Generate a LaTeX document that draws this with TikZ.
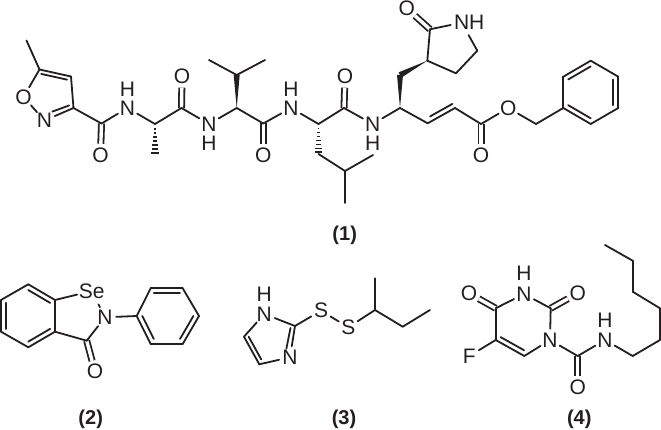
\documentclass[tikz,border=0pt]{standalone}
\usepackage{xcolor}
\usepackage{fontspec}
\setmainfont{Liberation Sans}
\usetikzlibrary{calc,positioning}
\definecolor{ink}{HTML}{231F20}
\tikzstyle{atom} = [circle, inner sep=0pt, minimum size=22pt, text=ink, font=\fontsize{21}{23}\selectfont]
\tikzstyle{tag} = [inner sep=0pt, text=ink, font=\fontsize{20}{22}\selectfont\bfseries]
\tikzstyle{bond} = [draw=ink, line width=1.8pt, line cap=round]
\tikzstyle{dbond} = [draw=ink, line width=1.8pt, double, double distance=3.4pt]
\newcommand{\innerbond}[3]{\draw[bond] ($(#1)!.18!(#3)$) -- ($(#2)!.18!(#3)$);}
\newcommand{\wedgebond}[2]{\fill[ink] (#1) -- ($(#2)!3pt!90:(#1)$) -- ($(#2)!3pt!-90:(#1)$) -- cycle;}
\newcommand{\hashbond}[2]{\foreach \t in {.16,.29,.42,.55,.68,.81,.94}
    \draw[ink, line width=1.4pt] ($(#1)!\t!(#2)!\t*4pt!90:(#2)$) -- ($(#1)!\t!(#2)!\t*4pt!-90:(#2)$);}

\begin{document}
\begin{tikzpicture}[x=1pt, y=-1pt, node distance=19pt]
    \useasboundingbox (0,0) rectangle (661,430);

    \foreach \name/\pos in {c1/{26.5,40.5}, c2/{39.5,69.5}, c3/{71,76.5}, c4/{73.5,108}, c5/{101.5,123.5},
        c6/{155,124}, c7/{155,155}, c8/{181.5,108}, c9/{236.7,108}, c10/{236.7,75}, c11/{209,60}, c12/{265,60},
        c13/{263.3,123.5}, c14/{318.5,124}, c15/{318.5,154}, c16/{345,171}, c17/{373,155}, c18/{345,203},
        c19/{344,108}, c20/{400,108}, c21/{400,75}, c22/{427.3,60.7}, c23/{430,29.3}, c24/{477.3,50.7},
        c25/{456,73.3}, c26/{427.7,123.3}, c27/{455,108}, c28/{481,124}, c29/{536,124}, c30/{563.3,108},
        c31/{563.3,76.7}, c32/{590.7,60.7}, c33/{618.3,76.7}, c34/{618.3,108}, c35/{590.7,124},
        isox/{49,94}, isoxn/{53,115.5}, vinyl/{441,85}, benzyl/{590.7,92.3}}
        \coordinate (\name) at (\pos);

    \node[atom] (o1) at (23.5,97) {O};
    \node[atom] (n1) at (44.5,120.5) {N};
    \node[atom] (o2) at (100.5,155) {O};
    \node[atom] (n2) at (127.5,108) {N};
    \node[atom, above of=n2] (h2) {H};
    \node[atom] (o3) at (182,76.5) {O};
    \node[atom] (n3) at (209,124) {N};
    \node[atom, below of=n3] (h3) {H};
    \node[atom] (o4) at (263.3,155) {O};
    \node[atom] (n4) at (291,108) {N};
    \node[atom, above of=n4] (h4) {H};
    \node[atom] (o5) at (345,76.5) {O};
    \node[atom] (n5) at (372.7,124) {N};
    \node[atom, below of=n5] (h5) {H};
    \node[atom] (o6) at (406.7,8.3) {O};
    \node[atom] (n6) at (461.7,22.7) {N};
    \node[atom, right of=n6, node distance=15pt] (h6) {H};
    \node[atom] (o7) at (481,155) {O};
    \node[atom] (o8) at (508.3,108) {O};
    \node[tag] (tag1) at (344.7,235) {(1)};

    \foreach \a/\b in {c5/o2, c8/o3, c13/o4, c19/o5, c23/o6, c28/o7}
        \draw[dbond] (\a) -- (\b);
    \foreach \a/\b in {c1/c2, c2/c3, c3/c4, c4/n1, c2/o1, o1/n1, c4/c5, c5/n2, n2/c6, c6/c8, c8/n3, n3/c9, c9/c13,
        c10/c11, c10/c12, c13/n4, n4/c14, c14/c19, c15/c16, c16/c17, c16/c18, c19/n5, n5/c20, c22/c23, c23/n6,
        c24/c25, c25/c22, c20/c26, c26/c27, c27/c28, c28/o8, o8/c29, c29/c30, c30/c31, c31/c32, c32/c33,
        c33/c34, c34/c35, c35/c30}
        \draw[bond] (\a) -- (\b);
    \draw[bond, shorten <=3pt] (n6) -- (c24);
    \innerbond{c2}{c3}{isox}
    \innerbond{c4}{isoxn}{isox}
    \innerbond{c26}{c27}{vinyl}
    \innerbond{c31}{c32}{benzyl}
    \innerbond{c33}{c34}{benzyl}
    \innerbond{c35}{c30}{benzyl}
    \wedgebond{c9}{c10}
    \wedgebond{c20}{c21}
    \wedgebond{c22}{c21}
    \hashbond{c6}{c7}
    \hashbond{c14}{c15}

    \foreach \name/\pos in {d1/{28.3,284.3}, d2/{55,300}, d3/{55,331.7}, d4/{28.3,347.3}, d5/{1,331.7}, d6/{1,300},
        d7/{86.7,340.7}, d8/{136.7,316}, d9/{150.7,288.3}, d10/{182.7,288.3}, d11/{199,316}, d12/{182.7,344},
        d13/{150.7,344}, fused/{28,316}, phenyl/{167.8,316}}
        \coordinate (\name) at (\pos);
    \node[atom] (se) at (91.7,291) {Se};
    \node[atom] (dn) at (105,317.3) {N};
    \node[atom] (do) at (95,371.7) {O};
    \node[tag] (tag2) at (90.7,419) {(2)};

    \draw[dbond] (d7) -- (do);
    \foreach \a/\b in {d1/d2, d2/d3, d3/d4, d4/d5, d5/d6, d6/d1, d2/se, se/dn, dn/d7, d7/d3, dn/d8,
        d8/d9, d9/d10, d10/d11, d11/d12, d12/d13, d13/d8}
        \draw[bond] (\a) -- (\b);
    \innerbond{d1}{d2}{fused}
    \innerbond{d3}{d4}{fused}
    \innerbond{d5}{d6}{fused}
    \innerbond{d9}{d10}{phenyl}
    \innerbond{d11}{d12}{phenyl}
    \innerbond{d13}{d8}{phenyl}

    \foreach \name/\pos in {e1/{295,326}, e2/{259.3,364.3}, e3/{244,336.7}, e4/{375,310}, e5/{375,278.3},
        e6/{402.7,326.7}, e7/{430,310}, imid/{270,337}}
        \coordinate (\name) at (\pos);
    \node[atom] (en1) at (264.3,314) {N};
    \node[atom, above of=en1, node distance=20pt] (eh) {H};
    \node[atom] (en2) at (290,357.3) {N};
    \node[atom] (es1) at (321,310.7) {S};
    \node[atom] (es2) at (348.3,327.3) {S};
    \node[tag] (tag3) at (344,419) {(3)};

    \foreach \a/\b in {en1/e1, e1/en2, en2/e2, e2/e3, e3/en1, e1/es1, es1/es2, es2/e4, e4/e5, e4/e6, e6/e7}
        \draw[bond] (\a) -- (\b);
    \draw[bond] ($(e1)!.18!(imid)$) -- ($(en2)!.18!(imid)+(0,-5)$);
    \innerbond{e2}{e3}{imid}

    \foreach \name/\pos in {f1/{495.7,308.3}, f2/{550.7,308.3}, f3/{524.3,356}, f4/{495.7,340}, f5/{577.7,356},
        f6/{632.7,356}, f7/{660,340}, f8/{660,308.3}, f9/{632.7,291.7}, f10/{632.7,260.7}, f11/{605,245},
        uracil/{523,324}}
        \coordinate (\name) at (\pos);
    \node[atom] (fo1) at (469,293.3) {O};
    \node[atom] (fn1) at (524,294) {N};
    \node[atom, above of=fn1, node distance=20.5pt] (fh1) {H};
    \node[atom] (fo2) at (577.7,293.3) {O};
    \node[atom] (fn2) at (550,340) {N};
    \node[atom] (ff) at (469.3,356) {F};
    \node[atom] (fo3) at (577.7,387.7) {O};
    \node[atom] (fn3) at (605,340) {N};
    \node[atom, above of=fn3, node distance=20pt] (fh3) {H};
    \node[tag] (tag4) at (579.3,419) {(4)};

    \foreach \a/\b in {f1/fo1, f2/fo2, f5/fo3}
        \draw[dbond] (\a) -- (\b);
    \foreach \a/\b in {f1/fn1, fn1/f2, f2/fn2, fn2/f3, f3/f4, f4/f1, f4/ff, fn2/f5, f5/fn3, fn3/f6,
        f6/f7, f7/f8, f8/f9, f9/f10, f10/f11}
        \draw[bond] (\a) -- (\b);
    \innerbond{f3}{f4}{uracil}

\end{tikzpicture}
\end{document}
